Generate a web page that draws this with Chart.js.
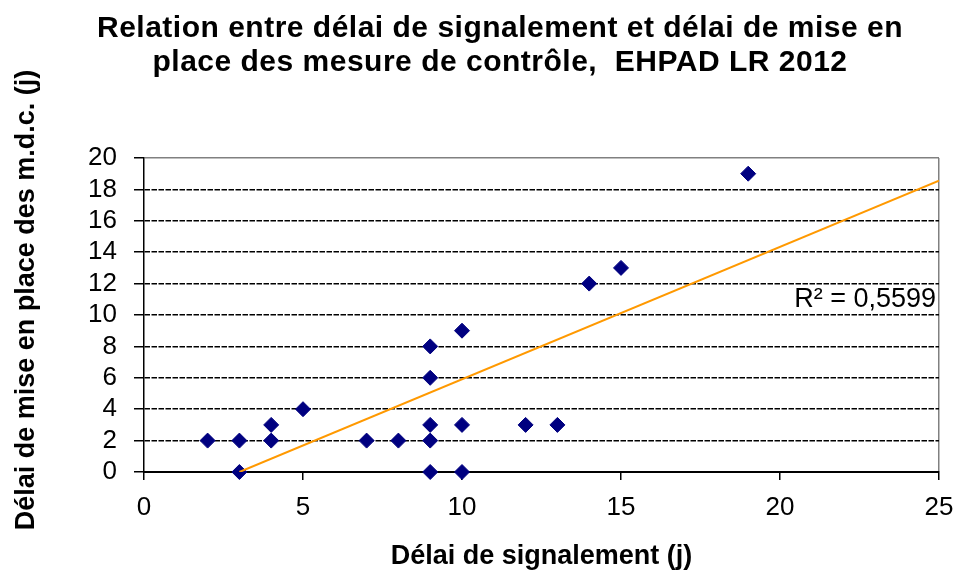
<!DOCTYPE html>
<html>
<head>
<meta charset="utf-8">
<script src="https://cdn.jsdelivr.net/npm/chart.js@4.4.0/dist/chart.umd.min.js"></script>
<style>
  html, body { margin: 0; padding: 0; background: #ffffff; }
  #wrap { width: 957px; height: 574px; }
</style>
</head>
<body>
<div id="wrap"><canvas id="c" width="957" height="574"></canvas></div>
<script>
// ---- Data ----
const titleLines = ['Relation entre délai de signalement et délai de mise en', 'place des mesure de contrôle,  EHPAD LR 2012'];
const xAxisTitle = 'Délai de signalement (j)';
const yAxisTitle = 'Délai de mise en place des m.d.c. (j)';
const xValues = [2, 3, 3, 4, 4, 5, 7, 8, 9, 9, 9, 9, 9, 10, 10, 10, 12, 13, 14, 15, 19];
const yValues = [2, 2, 0, 3, 2, 4, 2, 2, 8, 6, 3, 2, 0, 9, 3, 0, 3, 3, 12, 13, 19];
const trendX = [3, 25];
const trendY = [0, 18.55];
const r2Label = 'R² = 0,5599';
const xTickValues = [0, 5, 10, 15, 20, 25];
const yTickValues = [0, 2, 4, 6, 8, 10, 12, 14, 16, 18, 20];

const FONT = '"Liberation Sans", Arial, Helvetica, sans-serif';

const points = xValues.map((x, i) => ({ x: x, y: yValues[i] }));
const trend = trendX.map((x, i) => ({ x: x, y: trendY[i] }));

const titleTweak = {
  id: 'titleTweak',
  afterLayout(chart, args, opts) {
    const t = chart.titleBlock;
    if (!t) return;
    const shift = opts.centerX - (t.left + t.right) / 2;
    t.left += shift; t.right += shift;
    if (!t._spaced) {
      const d = t.draw;
      t.draw = function () {
        const ctx = this.ctx;
        ctx.save();
        ctx.letterSpacing = opts.letterSpacing;
        d.apply(this, arguments);
        ctx.restore();
      };
      t._spaced = true;
    }
  }
};

const r2Plugin = {
  id: 'r2Plugin',
  afterDatasetsDraw(chart, args, opts) {
    const { ctx } = chart;
    const xs = chart.scales.x, ys = chart.scales.y;
    ctx.save();
    ctx.font = opts.size + 'px ' + FONT;
    ctx.fillStyle = '#000';
    ctx.textAlign = 'right';
    ctx.textBaseline = 'alphabetic';
    ctx.fillText(r2Label, xs.getPixelForValue(opts.at[0]) + opts.dx, ys.getPixelForValue(opts.at[1]));
    ctx.restore();
  }
};

new Chart(document.getElementById('c'), {
  type: 'scatter',
  data: {
    datasets: [
      {
        type: 'line',
        label: 'Tendance',
        data: trend,
        borderColor: '#FF9900',
        borderWidth: 2,
        pointRadius: 0,
        fill: false,
        tension: 0
      },
      {
        label: 'Délai',
        data: points,
        pointStyle: 'rectRot',
        pointRadius: 7.5,
        pointBorderWidth: 1,
        pointBackgroundColor: '#000080',
        pointBorderColor: '#000080',
        clip: false
      }
    ]
  },
  options: {
    responsive: false,
    animation: false,
    devicePixelRatio: 1,
    layout: { padding: { top: 0, left: 0, right: 18, bottom: 0 } },
    plugins: {
      legend: { display: false },
      tooltip: { enabled: false },
      title: {
        display: true,
        text: titleLines,
        color: '#000',
        font: { family: FONT, size: 30, weight: 'bold', lineHeight: 34 / 30 },
        padding: { top: 11.5, bottom: 78.5 }
      },
      titleTweak: { centerX: 500, letterSpacing: '0.5px' },
      r2Plugin: { at: [25, 10.5], dx: -3, size: 27 }
    },
    scales: {
      x: {
        type: 'linear',
        min: 0, max: 25,
        afterBuildTicks: s => { s.ticks = xTickValues.map(v => ({ value: v })); },
        afterFit: s => { s.height = 102; s.paddingLeft = 0; s.paddingRight = 0; },
        ticks: { color: '#000', font: { family: FONT, size: 26 }, padding: 12, maxRotation: 0, autoSkip: false },
        grid: {
          color: c => (c.tick && c.tick.value === 25) ? '#808080' : 'rgba(0,0,0,0)',
          lineWidth: 1.5,
          tickColor: '#000', tickLength: 8, tickWidth: 1.5
        },
        border: { color: '#000', width: 2 },
        title: { display: true, text: xAxisTitle, color: '#000', font: { family: FONT, size: 27, weight: 'bold' }, padding: { top: 0, bottom: 1 } }
      },
      y: {
        type: 'linear',
        min: 0, max: 20,
        afterBuildTicks: s => { s.ticks = yTickValues.map(v => ({ value: v })); },
        afterFit: s => { s.width = 144; },
        ticks: { color: '#000', font: { family: FONT, size: 26 }, padding: 17, autoSkip: false },
        grid: {
          color: c => {
            if (!c.tick) return '#000';
            if (c.tick.value === 0) return 'rgba(0,0,0,0)';
            if (c.tick.value === 20) return '#808080';
            return '#000';
          },
          lineWidth: 1.5,
          tickColor: '#000', tickLength: 10, tickWidth: 1.5
        },
        border: {
          color: '#000', width: 1.5,
          dash: c => (c.tick && c.tick.value > 0 && c.tick.value < 20) ? [5.5, 1.5] : []
        },
        title: { display: true, text: '    ' + yAxisTitle, color: '#000', font: { family: FONT, size: 27, weight: 'bold' }, padding: { top: 10, bottom: 0 } }
      }
    }
  },
  plugins: [titleTweak, r2Plugin]
});
</script>
</body>
</html>
